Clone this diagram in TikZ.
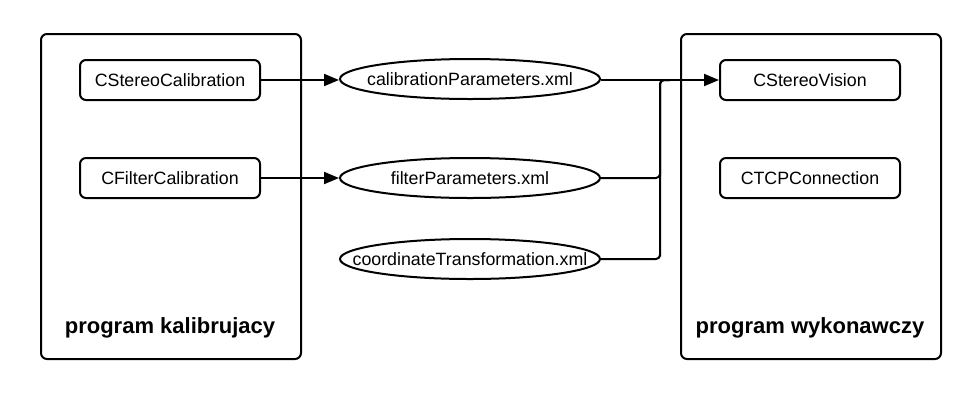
\documentclass[tikz,border=0pt]{standalone}
\usepackage{fontspec}
\setmainfont{Liberation Sans}
\usetikzlibrary{shapes.geometric,arrows.meta}
\begin{document}
\begin{tikzpicture}[x=1pt,y=-1pt,
  txt/.style={font=\fontsize{17.8}{20}\selectfont},
  bigbox/.style={draw,line width=2pt,rounded corners=6pt,minimum width=260pt,minimum height=325pt,anchor=north west},
  classbox/.style={draw,line width=2pt,rounded corners=6pt,minimum width=180pt,minimum height=40pt,txt},
  filenode/.style={draw,ellipse,line width=2pt,minimum width=260pt,minimum height=40pt,inner sep=0pt},
  titlelbl/.style={font=\bfseries\fontsize{22}{26}\selectfont},
  conn/.style={line width=2pt},
  arr/.style={conn,-{Triangle[length=15pt,width=12pt]}}]
\useasboundingbox (0,0) rectangle (980,400);
\node[bigbox] (left) at (40,33) {};
\node[bigbox] (right) at (680,33) {};
\node[classbox] (csc) at (170,80) {CStereoCalibration};
\node[classbox] (cfc) at (170,178) {CFilterCalibration};
\node[classbox] (csv) at (810,80) {CStereoVision};
\node[classbox] (ctcp) at (810,178) {CTCPConnection};
\node[filenode,label={[txt]center:calibrationParameters.xml}] (cal) at (470,79) {};
\node[filenode,label={[txt]center:filterParameters.xml}] (filt) at (470,178) {};
\node[filenode,label={[txt]center:coordinateTransformation.xml}] (coord) at (470,259) {};
\node[titlelbl] (lt) at (170,328) {program kalibrujacy};
\node[titlelbl] (rt) at (810,328) {program wykonawczy};
\coordinate (j) at (660,80);
\draw[arr] (csc.east) -- (cal.west |- csc.east);
\draw[arr] (cfc.east) -- (filt.west |- cfc.east);
\draw[arr] (cal.east |- csv.west) -- (csv.west);
\draw[conn,rounded corners=4pt] (filt.east) -| (j |- filt.east) |- ([xshift=10pt]j);
\draw[conn,rounded corners=4pt] (coord.east) -| (j |- coord.east) |- ([xshift=10pt]j);
\end{tikzpicture}
\end{document}
